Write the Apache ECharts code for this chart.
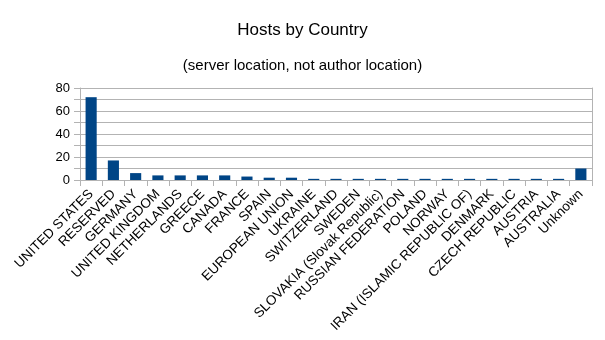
<!DOCTYPE html>
<html><head><meta charset="utf-8">
<script src="https://cdn.jsdelivr.net/npm/echarts@6/dist/echarts.min.js"></script>
<style>html,body{margin:0;padding:0;background:#fff}#c{width:605px;height:340px}</style>
</head><body><div id="c"></div>
<script>
var categories = ["UNITED STATES","RESERVED","GERMANY","UNITED KINGDOM","NETHERLANDS","GREECE","CANADA","FRANCE","SPAIN","EUROPEAN UNION","UKRAINE","SWITZERLAND","SWEDEN","SLOVAKIA (Slovak Republic)","RUSSIAN FEDERATION","POLAND","NORWAY","IRAN (ISLAMIC REPUBLIC OF)","DENMARK","CZECH REPUBLIC","AUSTRIA","AUSTRALIA","Unknown"];
var hosts = [72,17,6,4,4,4,4,3,2,2,1,1,1,1,1,1,1,1,1,1,1,1,10];
var yTickLabels = [0,20,40,60,80];
var chart = echarts.init(document.getElementById('c'));
var font = "'Liberation Sans', Arial, sans-serif";
chart.setOption({
  animation:false,
  title:[{text:'Hosts by Country', left:'center', top:17, textStyle:{fontFamily:font, fontSize:17, fontWeight:'normal', color:'#000'}},
         {text:'(server location, not author location)', left:'center', top:53, textStyle:{fontFamily:font, fontSize:15, fontWeight:'normal', color:'#000'}}],
  grid:{left:80, right:13, top:88, bottom:160, containLabel:false},
  xAxis:{type:'category', data:categories,
    axisLine:{lineStyle:{color:'#b3b3b3'}},
    axisTick:{show:true, alignWithLabel:false, length:6, lineStyle:{color:'#b3b3b3'}},
    axisLabel:{interval:0, rotate:45, fontFamily:font, fontSize:13.5, color:'#000', margin:12}},
  yAxis:[{type:'value', min:0, max:80, interval:10,
    axisLine:{show:true, lineStyle:{color:'#b3b3b3'}}, axisTick:{show:true, length:6, lineStyle:{color:'#b3b3b3'}},
    splitLine:{lineStyle:{color:'#b3b3b3'}},
    axisLabel:{fontFamily:font, fontSize:13, color:'#000', margin:10,
      formatter:function(v){return yTickLabels.indexOf(v)>=0 ? String(v) : '';}}},
    {type:'value', min:0, max:80, interval:10, position:'right',
    axisLine:{show:true, lineStyle:{color:'#b3b3b3'}}, axisTick:{show:false}, axisLabel:{show:false}, splitLine:{show:false}}],
  series:[{type:'bar', data:hosts, barWidth:'50%', itemStyle:{color:'#004586'}}]
});
</script></body></html>
